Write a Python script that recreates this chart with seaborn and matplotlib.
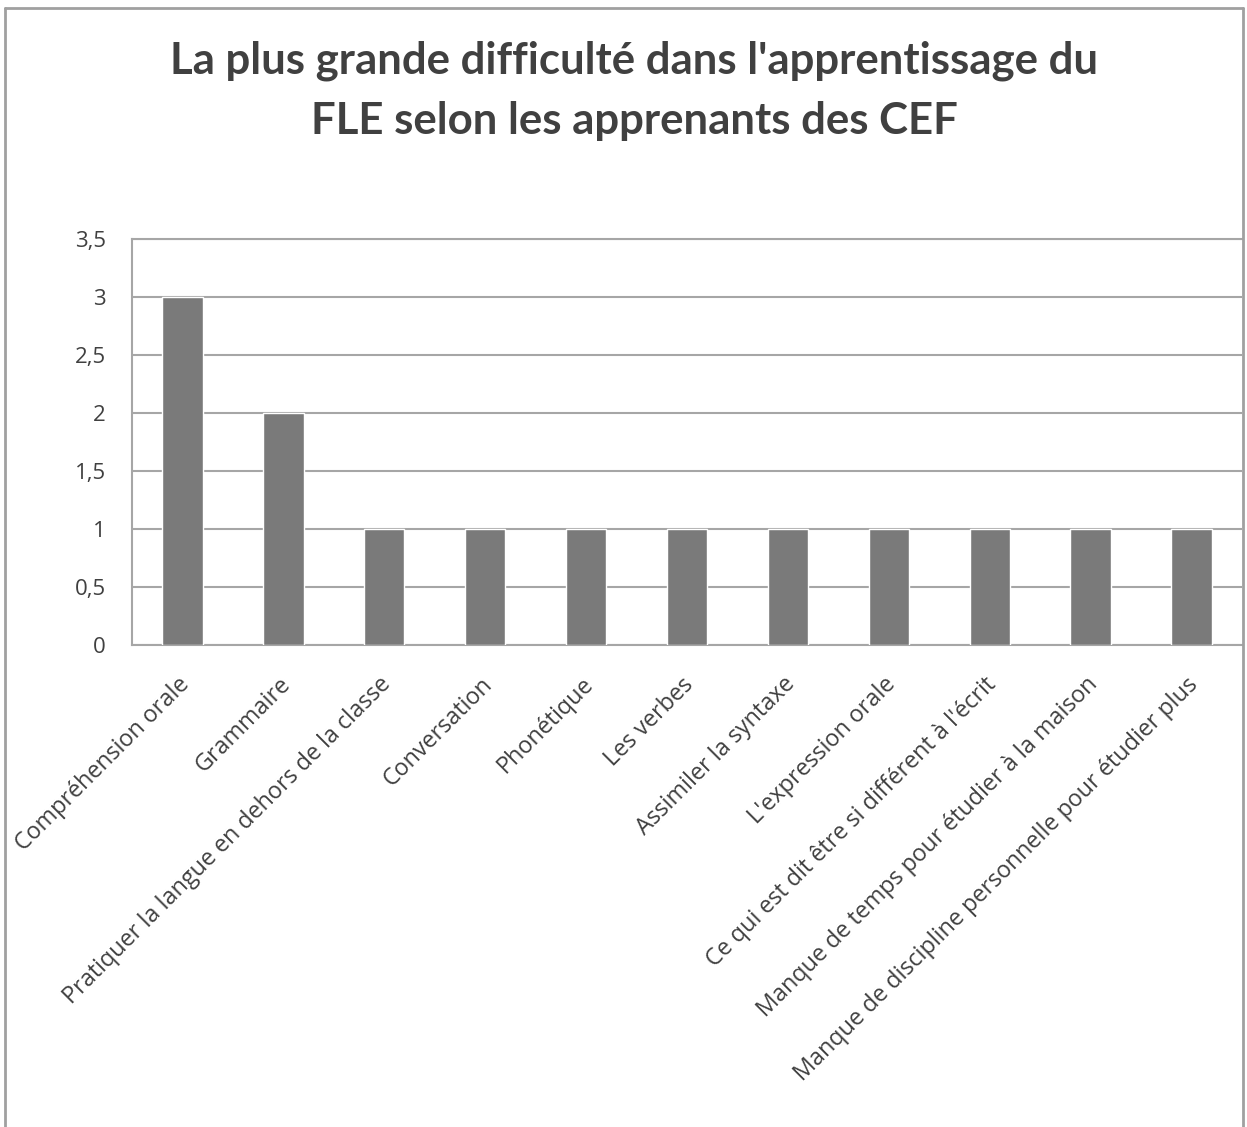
import matplotlib
matplotlib.use("Agg")
import matplotlib.pyplot as plt
import matplotlib.transforms as mtransforms
import seaborn as sns
import pandas as pd
from matplotlib.lines import Line2D

categories = [
    "Compréhension orale",
    "Grammaire",
    "Pratiquer la langue en dehors de la classe",
    "Conversation",
    "Phonétique",
    "Les verbes",
    "Assimiler la syntaxe",
    "L'expression orale",
    "Ce qui est dit être si différent à l'écrit",
    "Manque de temps pour étudier à la maison",
    "Manque de discipline personnelle pour étudier plus",
]
values = [3, 2, 1, 1, 1, 1, 1, 1, 1, 1, 1]
yticks = [0, 0.5, 1, 1.5, 2, 2.5, 3, 3.5]
ytick_labels = ["0", "0,5", "1", "1,5", "2", "2,5", "3", "3,5"]
title = "La plus grande difficulté dans l'apprentissage du\nFLE selon les apprenants des CEF"

sns.set_theme(style="white")
plt.rcParams["font.family"] = ["Open Sans", "DejaVu Sans"]

W, H = 1247, 1127
fig = plt.figure(figsize=(W / 100, H / 100), dpi=100)
fig.patch.set_facecolor("white")

left, right, top, bottom = 132, 1242, 239, 645
ax = fig.add_axes([left / W, 1 - bottom / H, (right - left) / W, (bottom - top) / H])

df = pd.DataFrame({"cat": categories, "val": values})
sns.barplot(data=df, x="cat", y="val", color="#7a7a7a", saturation=1, width=0.4, ax=ax, zorder=3)

ax.set_ylim(0, 3.5)
ax.set_xlim(-0.5, len(categories) - 0.5)
ax.set_yticks(yticks)
ax.set_yticklabels(ytick_labels, fontsize=16, color="#404040", family=["Open Sans", "DejaVu Sans"])
ax.yaxis.grid(True, color="#a6a6a6", linewidth=1.5, zorder=0)
ax.set_axisbelow(True)
ax.tick_params(axis="y", length=0, pad=19)
ax.tick_params(axis="x", length=0, pad=4)
ax.set_xlabel("")
ax.set_ylabel("")
ax.set_xticks(range(len(categories)))
ax.set_xticklabels(categories, rotation=45, ha="right", va="top", rotation_mode="anchor",
                   fontsize=16.8, color="#404040", family=["Open Sans", "DejaVu Sans"])
for lab in ax.get_xticklabels():
    lab.set_transform(lab.get_transform() + mtransforms.ScaledTranslation(-5 / 100, -22 / 100, fig.dpi_scale_trans))
for s in ["left", "bottom", "top"]:
    ax.spines[s].set_visible(True)
    ax.spines[s].set_color("#a6a6a6")
    ax.spines[s].set_linewidth(1.5)
ax.spines["right"].set_visible(False)

fig.text(634 / W, 1 - 91 / H, title, ha="center", va="center",
         fontsize=31.5, fontweight="bold", color="#404040", family=["Lato", "DejaVu Sans"],
         linespacing=1.6)

# outer chart border (cropped at the bottom)
bx0, bx1, by0 = 5 / W, 1243 / W, 1 - 8 / H
for xs, ys in [([bx0, bx0], [0, by0]), ([bx0, bx1], [by0, by0]), ([bx1, bx1], [by0, 0])]:
    fig.add_artist(Line2D(xs, ys, color="#a0a0a0", linewidth=2, transform=fig.transFigure))

fig.savefig("out.png", dpi=100, facecolor="white")
